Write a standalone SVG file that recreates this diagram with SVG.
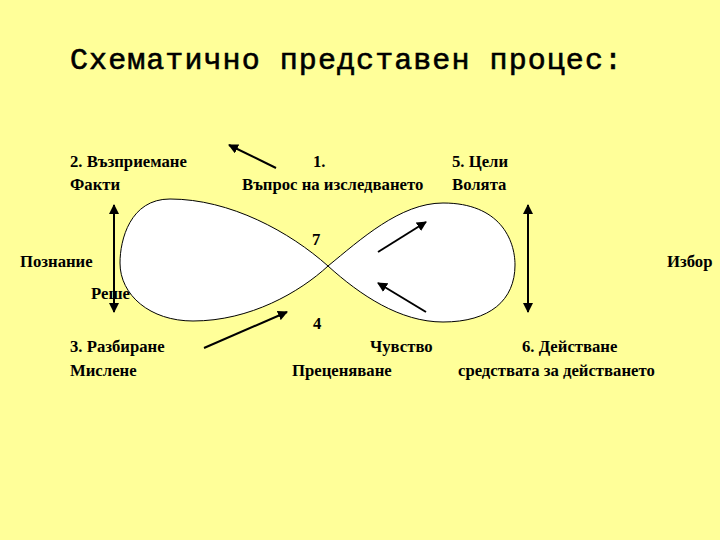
<svg xmlns="http://www.w3.org/2000/svg" width="720" height="540" viewBox="0 0 720 540">
<defs>
<style>
.t{font-family:"Liberation Serif","Times New Roman",serif;font-weight:bold;font-size:16.7px;fill:#000}
.title{font-family:"Liberation Mono","Courier New",monospace;font-size:30px;fill:#000;stroke:#000;stroke-width:0.6}
.a{stroke:#000;stroke-width:2;fill:none}
</style>
<marker id="ah" viewBox="0 0 10 10" refX="9" refY="5" markerWidth="5" markerHeight="5" orient="auto-start-reverse">
<path d="M0,0 L10,5 L0,10 Z" fill="#000"/>
</marker>
</defs>
<rect width="720" height="540" fill="#FFFF99"/>
<text class="title" x="70" y="69" textLength="552">Схематично представен процес:</text>
<g id="label-reshenie"><text class="t" x="91" y="299">Реше</text></g>
<g id="infinity">
<path d="M328,266 C360,240 400,203 443,203 C500,203 515,240 515,265 C515,300 490,322 443,322 C400,322 360,295 328,266 C290,232 230,199 170,199 C130,199 120,240 120,263 C120,295 150,321 193,321 C250,321 300,292 328,266 Z" fill="#fff" stroke="#000" stroke-width="1"/>
</g>
<g id="connectors">
<line class="a" x1="276" y1="168" x2="229" y2="145" marker-end="url(#ah)"/>
<line class="a" x1="114" y1="205" x2="114" y2="312" marker-start="url(#ah)" marker-end="url(#ah)"/>
<line class="a" x1="378" y1="252" x2="426" y2="222" marker-end="url(#ah)"/>
<line class="a" x1="528" y1="205" x2="528" y2="312" marker-start="url(#ah)" marker-end="url(#ah)"/>
<line class="a" x1="426" y1="312" x2="378" y2="283" marker-end="url(#ah)"/>
<line class="a" x1="204" y1="348" x2="287" y2="312" marker-end="url(#ah)"/>
</g>
<g id="n2"><text class="t" x="70" y="167">2. Възприемане</text><text class="t" x="70" y="190">Факти</text></g>
<g id="n1"><text class="t" x="313" y="167">1.</text><text class="t" x="242" y="190">Въпрос на изследването</text></g>
<g id="n5"><text class="t" x="452" y="167">5. Цели</text><text class="t" x="452" y="190">Волята</text></g>
<g id="n7"><text class="t" x="312" y="245">7</text></g>
<g id="n-poznanie"><text class="t" x="20" y="267">Познание</text></g>
<g id="n-izbor"><text class="t" x="667" y="267">Избор</text></g>
<g id="n4"><text class="t" x="313" y="329">4</text></g>
<g id="n3"><text class="t" x="70" y="352">3. Разбиране</text><text class="t" x="70" y="376">Мислене</text></g>
<g id="n-chuvstvo"><text class="t" x="370" y="352">Чувство</text><text class="t" x="292" y="376">Преценяване</text></g>
<g id="n6"><text class="t" x="522" y="352">6. Действане</text><text class="t" x="458" y="376">средствата за действането</text></g>
</svg>
